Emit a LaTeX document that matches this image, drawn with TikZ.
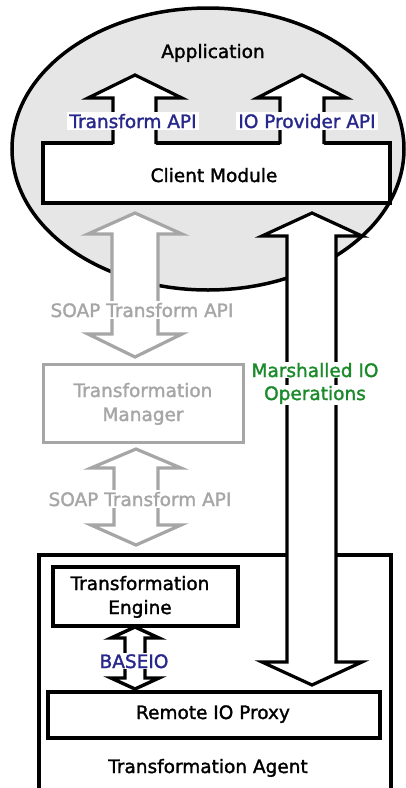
\documentclass[tikz,border=0pt]{standalone}
\usepackage{fontspec}
\setmainfont{DejaVu Sans}[FakeBold=1.6]
\definecolor{navytxt}{HTML}{28288C}
\definecolor{greentxt}{HTML}{1A8A2A}
\definecolor{greyline}{HTML}{A6A6A6}
\definecolor{appfill}{HTML}{E6E6E6}
\begin{document}
\begin{tikzpicture}[x=1pt,y=-1pt,
  txt/.style={anchor=base, inner sep=2pt, font=\fontsize{18.5}{20}\selectfont},
  blackbox/.style={draw=black, line width=3.5pt, fill=white, inner sep=0pt},
  greybox/.style={draw=greyline, line width=3pt, fill=white, inner sep=0pt},
  blockarrow/.style={draw=black, line width=3.2pt, fill=white, line join=miter},
  greyarrow/.style={draw=greyline, line width=3.2pt, fill=white, line join=miter},
  smallarrow/.style={draw=black, line width=3.4pt, fill=white, line join=miter}]
\useasboundingbox (0,0) rectangle (406,788);
\clip (0,0) rectangle (406,788);
\fill[white] (0,0) rectangle (406,788);

% Application ellipse
\draw[line width=3.5pt, fill=appfill] (208,149) ellipse [x radius=196pt, y radius=141pt];
\node[txt] (app) at (213,58) {Application};

% Client module
\node[blackbox, minimum width=347pt, minimum height=60pt] (cm) at (216.5,173) {};
\node[txt] (cmt) at (214,182) {Client Module};

% up arrows from client module
\fill[white] (113,147) -- (113,98) -- (88,98) -- (135,75) -- (182,98) -- (156,98) -- (156,147) -- cycle;
\draw[blockarrow, fill=none] (113,144) -- (113,98) -- (88,98) -- (135,75) -- (182,98) -- (156,98) -- (156,144);
\fill[white] (280,147) -- (280,98) -- (257,98) -- (302,75) -- (347,98) -- (324,98) -- (324,147) -- cycle;
\draw[blockarrow, fill=none] (280,144) -- (280,98) -- (257,98) -- (302,75) -- (347,98) -- (324,98) -- (324,144);
\node[txt, fill=white, text=navytxt] (tapi) at (133,128) {Transform API};
\node[txt, fill=white, text=navytxt] (ioapi) at (307,128) {IO Provider API};

% Transformation Agent box
\node[blackbox, minimum width=352pt, minimum height=260pt, anchor=north west] (ta) at (37,553) {};
\node[txt] (tat) at (208,773) {Transformation Agent};

% Transformation Engine
\node[blackbox, minimum width=185pt, minimum height=59pt] (te) at (145.5,596.5) {};
\node[txt] (tet1) at (140,590) {Transformation};
\node[txt] (tet2) at (140,614) {Engine};

% Remote IO proxy
\node[blackbox, minimum width=332pt, minimum height=46pt] (rp) at (214,715) {};
\node[txt] (rpt) at (213,719) {Remote IO Proxy};

% BASEIO small double arrow
\draw[smallarrow] (125,638) -- (111,638) -- (135,627) -- (159,638) -- (145,638)
  -- (145,678) -- (159,678) -- (135,689) -- (111,678) -- (125,678) -- cycle;
\node[txt, fill=white, text=navytxt, inner sep=1pt] (baseio) at (134,668) {BASEIO};

% Transformation Manager (grey)
\node[greybox, minimum width=200pt, minimum height=78pt] (tm) at (143,403) {};
\node[txt, text=greyline] (tmt1) at (143,397) {Transformation};
\node[txt, text=greyline] (tmt2) at (143,421) {Manager};

% SOAP arrow 1
\draw[greyarrow] (112,234) -- (88,234) -- (135,213) -- (182,234) -- (158,234)
  -- (158,334) -- (182,334) -- (135,357) -- (88,334) -- (112,334) -- cycle;
\node[txt, fill=white, text=greyline] (soap1) at (142,317) {SOAP Transform API};

% SOAP arrow 2
\draw[greyarrow] (114,468) -- (91,468) -- (136,449) -- (181,468) -- (158,468)
  -- (158,525) -- (181,525) -- (136,545) -- (91,525) -- (114,525) -- cycle;
\node[txt, fill=white, text=greyline] (soap2) at (140,506) {SOAP Transform API};

% Marshalled IO double arrow
\draw[blockarrow] (287,236) -- (262,236) -- (312,213) -- (362,236) -- (336,236)
  -- (336,662) -- (362,662) -- (312,685) -- (262,662) -- (287,662) -- cycle;
\node[txt, fill=white, text=greentxt, inner sep=1pt] (mio1) at (315,377) {Marshalled IO};
\node[txt, fill=white, text=greentxt, inner sep=1pt] (mio2) at (315,400) {Operations};
\end{tikzpicture}
\end{document}
